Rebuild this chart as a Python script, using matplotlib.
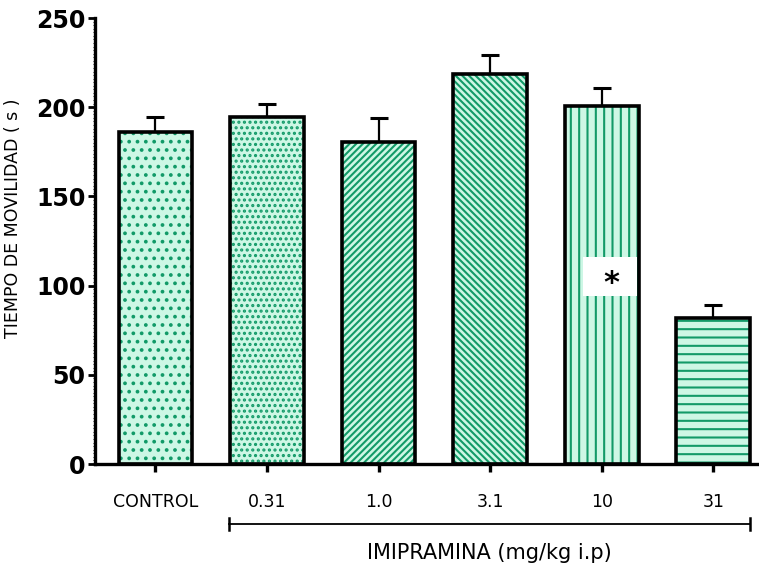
import matplotlib
matplotlib.use("Agg")
import matplotlib.pyplot as plt
from matplotlib.colors import to_rgba
from matplotlib.patches import Rectangle
from matplotlib.ticker import MultipleLocator
import matplotlib.transforms as mtransforms

# Mobility time per treatment group (mean and upper SEM)
categories = ["CONTROL", "0.31", "1.0", "3.1", "10", "31"]
means = [186, 194.5, 180.5, 218.5, 200.5, 82]
sem = [8.5, 7.5, 13.5, 11, 10.5, 7]
hatches = ["..", "...", "/////", "\\\\\\\\\\", "||", "--"]

fill_color = "#cdf7e5"
hatch_color = "#129a68"

plt.rcParams["font.family"] = ["DejaVu Sans"]
plt.rcParams["hatch.linewidth"] = 1.5

fig = plt.figure(figsize=(7.59, 5.70), dpi=100)
ax = fig.add_axes([95 / 759, 1 - 464 / 570, 1 - 95 / 759, 446 / 570])

x = list(range(len(categories)))
bars = ax.bar(x, means, width=0.66, color=fill_color, edgecolor="black",
              linewidth=2.6, zorder=2)
for b, h in zip(bars, hatches):
    b.set_hatch(h)
    b._hatch_color = to_rgba(hatch_color)

# upper error bars only
ax.errorbar(x, means, yerr=[[0] * len(sem), sem], fmt="none", ecolor="black",
            elinewidth=1.6, capsize=6.5, capthick=2.2, zorder=1)

ax.set_xlim(-0.542, 5.41)
ax.set_ylim(0, 250)
ax.yaxis.set_major_locator(MultipleLocator(50))
ax.yaxis.set_minor_locator(MultipleLocator(2))

for side in ("top", "right"):
    ax.spines[side].set_visible(False)
for side in ("left", "bottom"):
    ax.spines[side].set_linewidth(2.4)

ax.set_xticks(x)
ax.set_xticklabels(categories, fontsize=12.5)
ax.tick_params(axis="x", which="major", direction="out", length=6, width=2.4, pad=15)
ax.tick_params(axis="y", which="major", direction="out", length=5, width=2.0, pad=2,
               labelsize=17)
ax.tick_params(axis="y", which="minor", direction="out", length=1.5, width=0.6)
for lbl in ax.get_yticklabels():
    lbl.set_fontweight("bold")

ax.set_ylabel("TIEMPO DE MOVILIDAD ( s )", fontsize=12.5)
ax.yaxis.set_label_coords(-0.11, 0.552)

# significance marker on a white patch
ax.add_patch(Rectangle((3.83, 94), 0.49, 22, facecolor="white", edgecolor="none",
                       zorder=4))
ax.text(4.09, 101, "*", fontsize=22, fontweight="bold", ha="center", va="center",
        zorder=5)

# bracket grouping the imipramine doses
trans = mtransforms.blended_transform_factory(ax.transData, ax.transAxes)
bx0, bx1, by = 0.655, 5.33, -0.1345
ax.plot([bx0, bx1], [by, by], color="black", lw=1.3, transform=trans, clip_on=False)
for bx in (bx0, bx1):
    ax.plot([bx, bx], [by - 0.013, by + 0.013], color="black", lw=1.8,
            transform=trans, clip_on=False)
ax.text((bx0 + bx1) / 2, -0.2, "IMIPRAMINA (mg/kg i.p)", fontsize=15,
        ha="center", va="center", transform=trans)

fig.savefig("out.png", dpi=100)
